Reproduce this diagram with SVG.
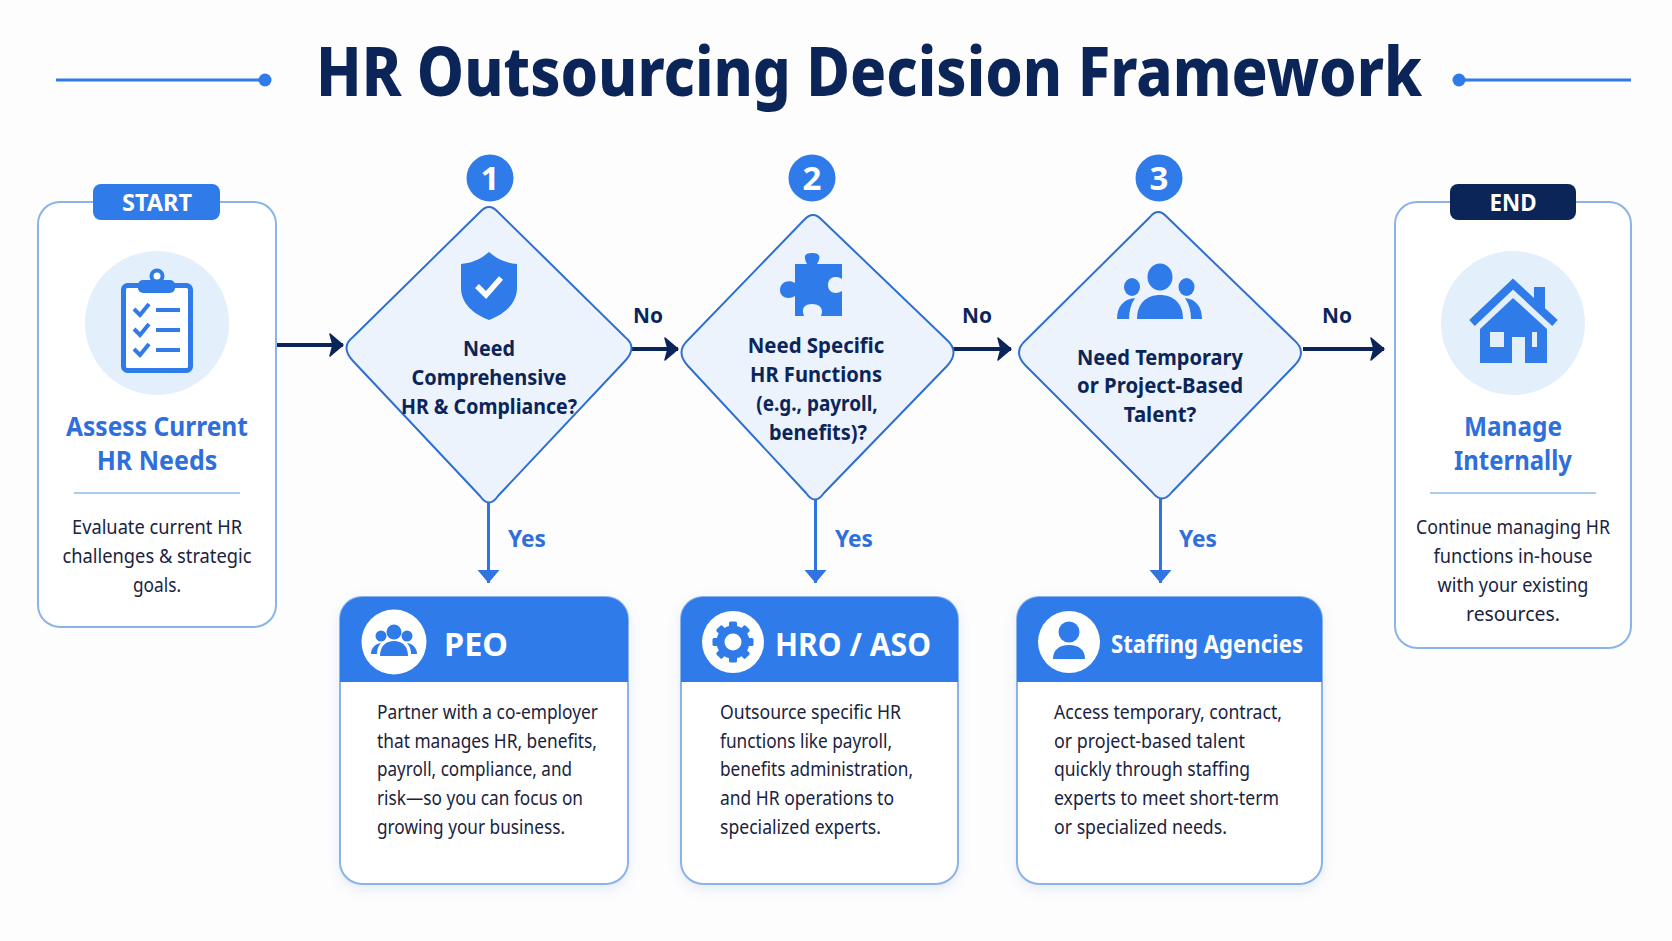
<svg xmlns="http://www.w3.org/2000/svg" width="1672" height="941" viewBox="0 0 1672 941">
<style>
text{font-family:"Noto Sans","Open Sans","Liberation Sans",sans-serif}
.title{font-size:68px;font-weight:800;fill:#0b2559}
.pill{font-size:23px;font-weight:700;fill:#fff;text-anchor:middle}
.head{font-size:27px;font-weight:700;fill:#2f6fdc;text-anchor:middle}
.desc{font-size:19.5px;fill:#1a2340;text-anchor:middle}
.body{font-size:19.5px;fill:#1a2340}
.q{font-size:22px;font-weight:700;fill:#0b2559;text-anchor:middle}
.num{font-size:33px;font-weight:700;fill:#fff;text-anchor:middle}
.no{font-size:22px;font-weight:700;fill:#0b2559;text-anchor:middle}
.yes{font-size:23px;font-weight:700;fill:#2f6fdc}
.ct{font-size:33px;font-weight:700;fill:#fff}
.card{fill:#fff;stroke:#8ab4e8;stroke-width:2}
.dia{fill:#ecf3fc;stroke:#2f6fd0;stroke-width:2}
.hdr{fill:#2f7bea}
.b{fill:#2f7bea}
.w{fill:#fff}
.disc{fill:#e3effb}
.div{stroke:#a9cbf0;stroke-width:2}
.nav{stroke:#0b2559;stroke-width:4;fill:none}
.blu{stroke:#2f74e0;stroke-width:3;fill:none}
.deco{stroke:#2f7bea;stroke-width:3;fill:none}
</style>
<defs>
<filter id="sh" x="-10%" y="-10%" width="120%" height="120%"><feDropShadow dx="0" dy="4" stdDeviation="6" flood-color="#5f86c0" flood-opacity="0.16"/></filter>
<marker id="an" markerUnits="userSpaceOnUse" markerWidth="16" markerHeight="26" refX="14" refY="12" orient="auto"><path d="M1 1L14 12L1 23L4 12Z" fill="#0b2559" stroke="#0b2559" stroke-width="1.5" stroke-linejoin="round"/></marker>
<marker id="ab" markerUnits="userSpaceOnUse" markerWidth="16" markerHeight="24" refX="14" refY="12" orient="auto"><path d="M1 1L14 12L1 23Z" fill="#2f74e0"/></marker>
</defs>
<rect width="1672" height="941" fill="#fdfdfe"/>
<g id="title">
<path class="deco" d="M56 80H260M1464 80H1631"/>
<circle class="b" cx="265" cy="80" r="6.500"/><circle class="b" cx="1459" cy="80" r="6.500"/>
<text class="title" x="316" y="96" textLength="1106" lengthAdjust="spacingAndGlyphs">HR Outsourcing Decision Framework</text>
</g>
<g id="connectors">
<path class="nav" d="M277 345H343" marker-end="url(#an)"/>
<path class="nav" d="M632 349H678" marker-end="url(#an)"/>
<path class="nav" d="M953 349H1011" marker-end="url(#an)"/>
<path class="nav" d="M1303 349H1384" marker-end="url(#an)"/>
<path class="blu" d="M488.500 502V583" marker-end="url(#ab)"/>
<path class="blu" d="M815.500 500V583" marker-end="url(#ab)"/>
<path class="blu" d="M1160.500 498V583" marker-end="url(#ab)"/>
<text class="no" x="648" y="323" textLength="30" lengthAdjust="spacingAndGlyphs">No</text>
<text class="no" x="977" y="323" textLength="30" lengthAdjust="spacingAndGlyphs">No</text>
<text class="no" x="1337" y="323" textLength="30" lengthAdjust="spacingAndGlyphs">No</text>
<text class="yes" x="508" y="547" textLength="38" lengthAdjust="spacingAndGlyphs">Yes</text>
<text class="yes" x="835" y="547" textLength="38" lengthAdjust="spacingAndGlyphs">Yes</text>
<text class="yes" x="1179" y="547" textLength="38" lengthAdjust="spacingAndGlyphs">Yes</text>
</g>
<g id="node-start">
<rect class="card" x="38" y="202" width="238" height="425" rx="22"/>
<rect class="b" x="93" y="184" width="127" height="36" rx="8"/>
<text class="pill" x="157" y="211" textLength="70" lengthAdjust="spacingAndGlyphs">START</text>
<circle class="disc" cx="157" cy="323" r="72"/>
<rect x="123.500" y="285.500" width="67" height="85" rx="4" fill="#fff" stroke="#2f7bea" stroke-width="5"/>
<circle cx="157" cy="276" r="5.500" fill="#fff" stroke="#2f7bea" stroke-width="4"/>
<rect class="b" x="138" y="280" width="37" height="13" rx="5"/>
<path d="M134 309l6 6l9-11M134 329l6 6l9-11M134 349l6 6l9-11" fill="none" stroke="#2f7bea" stroke-width="4"/>
<path d="M156 310H180M156 330H180M156 350H180" fill="none" stroke="#2f7bea" stroke-width="4"/>
<text class="head" x="157" y="436" textLength="182" lengthAdjust="spacingAndGlyphs">Assess Current</text>
<text class="head" x="157" y="470" textLength="120.500" lengthAdjust="spacingAndGlyphs">HR Needs</text>
<path class="div" d="M74 493H240"/>
<text class="desc" x="157" y="534" textLength="170" lengthAdjust="spacingAndGlyphs">Evaluate current HR</text>
<text class="desc" x="157" y="563" textLength="189" lengthAdjust="spacingAndGlyphs">challenges &amp; strategic</text>
<text class="desc" x="157" y="592" textLength="48" lengthAdjust="spacingAndGlyphs">goals.</text>
</g>
<g id="node-q1">
<circle class="b" cx="490" cy="178" r="23.500"/>
<text class="num" x="490" y="190">1</text>
<path class="dia" d="M480 212Q489 202 498 212L625 337Q638 347 625 361L498 496Q489 509 480 496L353 361Q340 347 353 337Z"/>
<path class="b" d="M489 252C498 260 507 263 517 264V288C517 303 505 314 489 320C473 314 461 303 461 288V264C471 263 480 260 489 252Z"/>
<path d="M477 286l9 9l15-17" fill="none" stroke="#fff" stroke-width="5.500"/>
<text class="q" x="489" y="356" textLength="52" lengthAdjust="spacingAndGlyphs">Need</text>
<text class="q" x="489" y="385" textLength="155" lengthAdjust="spacingAndGlyphs">Comprehensive</text>
<text class="q" x="489" y="414" textLength="176" lengthAdjust="spacingAndGlyphs">HR &amp; Compliance?</text>
</g>
<g id="node-q2">
<circle class="b" cx="812" cy="178" r="23.500"/>
<text class="num" x="812" y="190">2</text>
<path class="dia" d="M804 220Q813 210 822 220L947 340Q960 352 947 366L824 493Q815 506 806 493L688 366Q675 352 688 340Z"/>
<path class="b" d="M795 264H807C804 258 803 253 812 253C822 253 820 259 817 264H842V279C836 275 828 277 828 285C828 293 836 295 842 291V316H821C824 309 820 304 812 304C804 304 801 309 804 316H795V296C789 300 780 298 780 290C780 282 789 279 795 283Z"/>
<text class="q" x="816" y="353" textLength="136.500" lengthAdjust="spacingAndGlyphs">Need Specific</text>
<text class="q" x="816" y="382" textLength="132" lengthAdjust="spacingAndGlyphs">HR Functions</text>
<text class="q" x="817" y="411" textLength="121.500" lengthAdjust="spacingAndGlyphs">(e.g., payroll,</text>
<text class="q" x="818" y="440" textLength="98" lengthAdjust="spacingAndGlyphs">benefits)?</text>
</g>
<g id="node-q3">
<circle class="b" cx="1159" cy="178" r="23.500"/>
<text class="num" x="1159" y="190">3</text>
<path class="dia" d="M1150 217Q1158 207 1167 217L1294 340Q1308 352 1294 366L1172 492Q1162 505 1152 492L1026 366Q1012 352 1026 340Z"/>
<g id="icon-team">
<ellipse class="b" cx="1160" cy="277" rx="12.500" ry="13.500"/>
<ellipse class="b" cx="1132" cy="287" rx="8" ry="9"/>
<ellipse class="b" cx="1186.500" cy="287" rx="8" ry="9"/>
<path class="b" d="M1137 319C1137 303 1147 295 1160 295C1173 295 1183 303 1183 319Z"/>
<path class="b" d="M1117 319C1117 307 1123 299 1135 298C1131 304 1129 311 1129 319Z"/>
<path class="b" d="M1202 319C1202 307 1196 299 1185 298C1189 304 1191 311 1191 319Z"/>
</g>
<text class="q" x="1160" y="365" textLength="166" lengthAdjust="spacingAndGlyphs">Need Temporary</text>
<text class="q" x="1160" y="393" textLength="166" lengthAdjust="spacingAndGlyphs">or Project-Based</text>
<text class="q" x="1160" y="422" textLength="72.500" lengthAdjust="spacingAndGlyphs">Talent?</text>
</g>
<g id="node-end">
<rect class="card" x="1395" y="202" width="236" height="446" rx="22"/>
<rect x="1450" y="184" width="126" height="36" rx="8" fill="#0b2559"/>
<text class="pill" x="1513" y="211" textLength="47" lengthAdjust="spacingAndGlyphs">END</text>
<circle class="disc" cx="1513" cy="323" r="72"/>
<rect class="b" x="1534" y="287" width="11" height="22"/>
<path d="M1472 323L1513 284L1555 323" fill="none" stroke="#2f7bea" stroke-width="8" stroke-linejoin="miter"/>
<path class="b" d="M1513 298L1547 329V363H1480V329Z"/>
<path d="M1490 332h14v15h-14zM1512 337h13v26h-13zM1532 332h5v15h-5z" fill="#e3effb"/>
<text class="head" x="1513" y="436" textLength="98" lengthAdjust="spacingAndGlyphs">Manage</text>
<text class="head" x="1513" y="470" textLength="118" lengthAdjust="spacingAndGlyphs">Internally</text>
<path class="div" d="M1430 493H1596"/>
<text class="desc" x="1513" y="534" textLength="194" lengthAdjust="spacingAndGlyphs">Continue managing HR</text>
<text class="desc" x="1513" y="563" textLength="159" lengthAdjust="spacingAndGlyphs">functions in-house</text>
<text class="desc" x="1513" y="592" textLength="151" lengthAdjust="spacingAndGlyphs">with your existing</text>
<text class="desc" x="1513" y="621" textLength="94" lengthAdjust="spacingAndGlyphs">resources.</text>
</g>
<g id="node-peo">
<rect class="card" x="340" y="597" width="288" height="287" rx="22" filter="url(#sh)"/>
<path class="hdr" d="M340 682V619A22 22 0 0 1 362 597H606A22 22 0 0 1 628 619V682Z"/>
<circle class="w" cx="394" cy="642" r="32.500"/>
<circle class="b" cx="394" cy="632" r="7.500"/><circle class="b" cx="381" cy="636" r="5.500"/><circle class="b" cx="407" cy="636" r="5.500"/>
<path class="b" d="M380 656C380 646 386 641 394 641C402 641 408 646 408 656Z"/>
<path class="b" d="M371 654C371 648 375 644 381 643C378 646 377 650 377 654Z"/>
<path class="b" d="M417 654C417 648 413 644 407 643C410 646 411 650 411 654Z"/>
<text class="ct" x="444" y="656" textLength="64" lengthAdjust="spacingAndGlyphs">PEO</text>
<text class="body" x="377" y="719" textLength="221" lengthAdjust="spacingAndGlyphs">Partner with a co-employer</text>
<text class="body" x="377" y="748" textLength="220" lengthAdjust="spacingAndGlyphs">that manages HR, benefits,</text>
<text class="body" x="377" y="776" textLength="195" lengthAdjust="spacingAndGlyphs">payroll, compliance, and</text>
<text class="body" x="377" y="805" textLength="206" lengthAdjust="spacingAndGlyphs">risk—so you can focus on</text>
<text class="body" x="377" y="834" textLength="188" lengthAdjust="spacingAndGlyphs">growing your business.</text>
</g>
<g id="node-hro">
<rect class="card" x="681" y="597" width="277" height="287" rx="22" filter="url(#sh)"/>
<path class="hdr" d="M681 682V619A22 22 0 0 1 703 597H936A22 22 0 0 1 958 619V682Z"/>
<circle class="w" cx="733" cy="642" r="31"/>
<g class="b"><rect x="729" y="621.500" width="8" height="41" rx="1.500"/>
<rect x="729" y="621.500" width="8" height="41" rx="1.500" transform="rotate(45 733 642)"/>
<rect x="729" y="621.500" width="8" height="41" rx="1.500" transform="rotate(90 733 642)"/>
<rect x="729" y="621.500" width="8" height="41" rx="1.500" transform="rotate(135 733 642)"/></g>
<circle cx="733" cy="642" r="12.500" fill="none" stroke="#2f7bea" stroke-width="8"/>
<circle class="w" cx="733" cy="642" r="8.500"/>
<text class="ct" x="775" y="656" textLength="156" lengthAdjust="spacingAndGlyphs">HRO / ASO</text>
<text class="body" x="720" y="719" textLength="181" lengthAdjust="spacingAndGlyphs">Outsource specific HR</text>
<text class="body" x="720" y="748" textLength="172" lengthAdjust="spacingAndGlyphs">functions like payroll,</text>
<text class="body" x="720" y="776" textLength="193" lengthAdjust="spacingAndGlyphs">benefits administration,</text>
<text class="body" x="720" y="805" textLength="174" lengthAdjust="spacingAndGlyphs">and HR operations to</text>
<text class="body" x="720" y="834" textLength="161" lengthAdjust="spacingAndGlyphs">specialized experts.</text>
</g>
<g id="node-staffing">
<rect class="card" x="1017" y="597" width="305" height="287" rx="22" filter="url(#sh)"/>
<path class="hdr" d="M1017 682V619A22 22 0 0 1 1039 597H1300A22 22 0 0 1 1322 619V682Z"/>
<circle class="w" cx="1069" cy="642" r="31"/>
<circle class="b" cx="1069" cy="632" r="10.500"/>
<path class="b" d="M1053 659C1053 650 1059 645 1069 645C1079 645 1085 650 1085 659Z"/>
<text class="ct" x="1111" y="653" style="font-size:25px" textLength="192" lengthAdjust="spacingAndGlyphs">Staffing Agencies</text>
<text class="body" x="1054" y="719" textLength="228" lengthAdjust="spacingAndGlyphs">Access temporary, contract,</text>
<text class="body" x="1054" y="748" textLength="191" lengthAdjust="spacingAndGlyphs">or project-based talent</text>
<text class="body" x="1054" y="776" textLength="196" lengthAdjust="spacingAndGlyphs">quickly through staffing</text>
<text class="body" x="1054" y="805" textLength="225" lengthAdjust="spacingAndGlyphs">experts to meet short-term</text>
<text class="body" x="1054" y="834" textLength="173" lengthAdjust="spacingAndGlyphs">or specialized needs.</text>
</g>
</svg>
